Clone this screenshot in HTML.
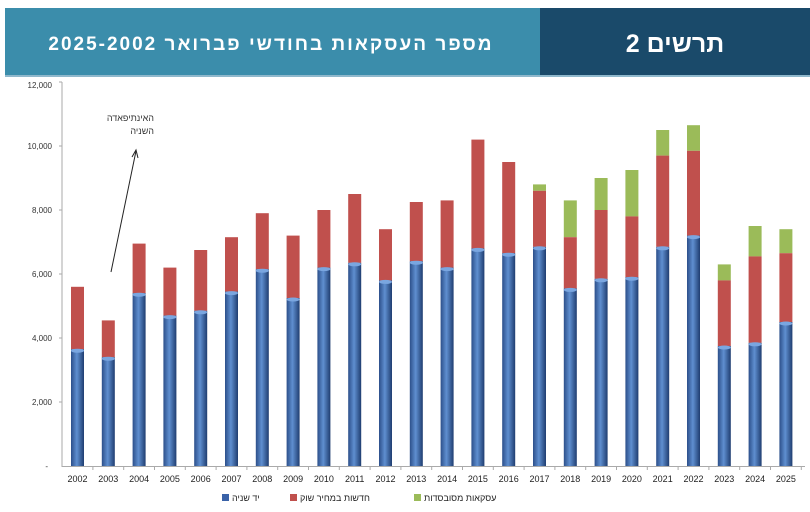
<!DOCTYPE html>
<html><head><meta charset="utf-8"><style>
html,body{margin:0;padding:0;background:#fff;width:810px;height:512px;overflow:hidden}
</style></head><body>
<svg width="810" height="512" xmlns="http://www.w3.org/2000/svg" font-family="Liberation Sans, DejaVu Sans, sans-serif">
<defs>
<linearGradient id="bl" x1="0" x2="1" y1="0" y2="0">
<stop offset="0" stop-color="#2c4f8a"/><stop offset="0.45" stop-color="#5f8fd0"/><stop offset="1" stop-color="#1f3d70"/>
</linearGradient>
</defs>
<rect x="5" y="8" width="535" height="67" fill="#3b8dab"/>
<rect x="540" y="8" width="270" height="67" fill="#1a4a6a"/>
<rect x="5" y="75" width="805" height="2" fill="#8fb8cc"/>
<text x="271" y="50" fill="#fff" font-size="19" font-weight="bold" text-anchor="middle" letter-spacing="2" font-family="Liberation Sans, DejaVu Sans, sans-serif">מספר העסקאות בחודשי פברואר 2025-2002</text>
<text x="675" y="52" fill="#fff" font-size="25" font-weight="bold" text-anchor="middle" font-family="Liberation Sans, DejaVu Sans, sans-serif">תרשים 2</text>
<line x1="62" y1="82" x2="62" y2="467" stroke="#aaa" stroke-width="1"/>
<line x1="62" y1="466.5" x2="805" y2="466.5" stroke="#aaa" stroke-width="1"/>
<g font-size="8" fill="#333" text-anchor="end">
<text x="52" y="88">12,000</text><text x="52" y="149">10,000</text><text x="52" y="213">8,000</text>
<text x="52" y="277">6,000</text><text x="52" y="341">4,000</text><text x="52" y="405">2,000</text><text x="48" y="469">-</text>
</g>
<g stroke="#aaa"><line x1="59" y1="82" x2="62" y2="82"/><line x1="59" y1="146" x2="62" y2="146"/><line x1="59" y1="210" x2="62" y2="210"/><line x1="59" y1="274" x2="62" y2="274"/><line x1="59" y1="338" x2="62" y2="338"/><line x1="59" y1="402" x2="62" y2="402"/></g>
<text x="154" y="121" font-size="9" fill="#333" text-anchor="end">האינתיפאדה</text>
<text x="154" y="134" font-size="9" fill="#333" text-anchor="end">השניה</text>
<line x1="111" y1="272" x2="136" y2="151" stroke="#222" stroke-width="1"/>
<polyline points="132,157 136,150 138,158" fill="none" stroke="#222" stroke-width="1"/>
<g id="bars"></g>
<g id="lab" font-size="9" fill="#222" text-anchor="middle"></g>
<rect x="222" y="494" width="7" height="7" fill="#3a62a8"/>
<text x="232" y="501" font-size="9" fill="#222">יד שניה</text>
<rect x="290" y="494" width="7" height="7" fill="#c0504d"/>
<text x="300" y="501" font-size="9" fill="#222">חדשות במחיר שוק</text>
<rect x="414" y="494" width="7" height="7" fill="#9bbb59"/>
<text x="424" y="501" font-size="9" fill="#222">עסקאות מסובסדות</text>
<script>
var d=[[3.65,5.6,0],[3.4,4.55,0],[5.4,6.95,0],[4.7,6.2,0],[4.85,6.75,0],[5.45,7.15,0],[6.15,7.9,0],[5.25,7.2,0],[6.2,8.0,0],[6.35,8.5,0],[5.8,7.4,0],[6.4,8.25,0],[6.2,8.3,0],[6.8,10.2,0],[6.65,9.5,0],[6.85,8.6,8.8],[5.55,7.15,8.3],[5.85,8.0,9.0],[5.9,7.8,9.25],[6.85,9.7,10.5],[7.2,9.85,10.65],[3.75,5.8,6.3],[3.85,6.55,7.5],[4.5,6.65,7.4]];
var ns="http://www.w3.org/2000/svg",g=document.getElementById("bars"),L=document.getElementById("lab");
function Y(v){return 466-v*32;}
function r(x,y,w,h,f){var e=document.createElementNS(ns,"rect");e.setAttribute("x",x);e.setAttribute("y",y);e.setAttribute("width",w);e.setAttribute("height",h);e.setAttribute("fill",f);g.appendChild(e);}
d.forEach(function(a,i){var c=77.5+30.8*i,x=c-6.5,w=13;
if(a[2])r(x,Y(a[2]),w,Y(a[1])-Y(a[2]),"#9bbb59");
r(x,Y(a[1]),w,Y(a[0])-Y(a[1]),"#c0504d");
r(x,Y(a[0]),w,466-Y(a[0]),"url(#bl)");
var el=document.createElementNS(ns,"ellipse");el.setAttribute("cx",c);el.setAttribute("cy",Y(a[0])+1.5);el.setAttribute("rx",6.5);el.setAttribute("ry",2);el.setAttribute("fill","#7aa6e0");g.appendChild(el);
var t=document.createElementNS(ns,"text");t.setAttribute("x",c);t.setAttribute("y",482);t.textContent=2002+i;L.appendChild(t);
var k=document.createElementNS(ns,"line");k.setAttribute("x1",c+15.4);k.setAttribute("x2",c+15.4);k.setAttribute("y1",466);k.setAttribute("y2",470);k.setAttribute("stroke","#aaa");L.appendChild(k);
});
</script>
</svg>
</body></html>
